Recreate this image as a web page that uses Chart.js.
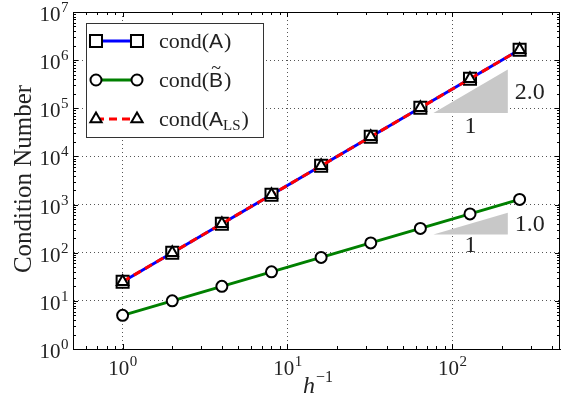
<!DOCTYPE html>
<html>
<head>
<meta charset="utf-8">
<script src="https://cdn.jsdelivr.net/npm/chart.js@4.4.1/dist/chart.umd.min.js"></script>
<style>html,body{margin:0;padding:0;background:#fff}</style>
</head>
<body>
<canvas id="c" width="561" height="409"></canvas>
<script>
// data
const hInv = [1, 2, 4, 8, 16, 32, 64, 128, 256];
const condA = [25, 100, 400, 1600, 6400, 25600, 102400, 409600, 1638400];
const condB = [5, 10, 20, 40, 80, 160, 320, 640, 1280];
const condALS = [25, 100, 400, 1600, 6400, 25600, 102400, 409600, 1638400];
const xTickVals = [1, 10, 100];
const yTickVals = [1, 10, 100, 1e3, 1e4, 1e5, 1e6, 1e7];
// slope triangles: x0, x1, y0, y1, slope text, run text
const triUpper = [76.8, 217, 8e4, 6.4e5, '2.0', '1'];
const triLower = [76.8, 217, 240, 680, '1.0', '1'];

const SERIF = '"Liberation Serif", "DejaVu Serif", serif';
const SANS = '"Liberation Sans", "DejaVu Sans", sans-serif';

const pts = ys => hInv.map((x, i) => ({ x: x, y: ys[i] }));

const styleA = { color: '#0000ff', point: 'rect', r: 8.5, dash: [] };
const styleB = { color: '#008000', point: 'circle', r: 5.5, dash: [] };
const styleALS = { color: '#ff0000', point: 'triangle', r: 6.5, dash: [8, 5] };

function ds(label, ys, st, order) {
  return {
    label: label, data: pts(ys), order: order,
    borderColor: st.color, borderWidth: 3, borderDash: st.dash,
    pointStyle: st.point, pointRadius: st.r, pointBorderColor: '#000',
    pointBackgroundColor: '#fff', pointBorderWidth: 2, tension: 0, fill: false
  };
}

// draws "10" with a raised exponent; align 'center' or 'right'
function pow10(ctx, exp, x, y, align) {
  ctx.font = '21px ' + SERIF;
  const wb = ctx.measureText('10').width;
  ctx.font = '15px ' + SERIF;
  const we = ctx.measureText(exp).width;
  let x0 = align === 'center' ? x - (wb + we) / 2 : x - wb - we;
  ctx.textAlign = 'left';
  ctx.textBaseline = 'alphabetic';
  ctx.font = '21px ' + SERIF;
  ctx.fillText('10', x0, y);
  ctx.font = '15px ' + SERIF;
  ctx.fillText(exp, x0 + wb + 0.5, y - 9);
}

function slopeTri(ctx, xs, ys, t, belowOff) {
  const xa = xs.getPixelForValue(t[0]), xb = xs.getPixelForValue(t[1]);
  const ya = ys.getPixelForValue(t[2]), yb = ys.getPixelForValue(t[3]);
  ctx.save();
  ctx.fillStyle = '#c8c8c8';
  ctx.beginPath();
  ctx.moveTo(xa, ya); ctx.lineTo(xb, ya); ctx.lineTo(xb, yb); ctx.closePath();
  ctx.fill();
  ctx.restore();
  return { xa, xb, ya, yb, belowOff };
}

const annot = {
  id: 'annot',
  beforeDatasetsDraw(chart) {
    const ctx = chart.ctx, xs = chart.scales.x, ys = chart.scales.y;
    chart.$tris = [
      [slopeTri(ctx, xs, ys, triUpper, 14), triUpper],
      [slopeTri(ctx, xs, ys, triLower, 11), triLower]
    ];
  },
  afterDraw(chart) {
    const ctx = chart.ctx, xs = chart.scales.x, ys = chart.scales.y;
    const a = chart.chartArea;
    ctx.save();
    // frame top / right
    ctx.strokeStyle = '#000'; ctx.lineWidth = 1;
    ctx.strokeRect(Math.round(a.left) + 0.5, Math.round(a.top) + 0.5,
      Math.round(a.right - a.left) - 1, Math.round(a.bottom - a.top));

    // inward ticks on all four sides
    ctx.beginPath();
    for (let n = -1; n <= 7; n++) {
      for (let k = 1; k <= 9; k++) {
        const v = k * Math.pow(10, n);
        const len = k === 1 ? 5 : 3;
        if (v >= xs.min && v <= xs.max) {
          const px = Math.round(xs.getPixelForValue(v)) + 0.5;
          ctx.moveTo(px, a.bottom); ctx.lineTo(px, a.bottom - len);
          ctx.moveTo(px, a.top); ctx.lineTo(px, a.top + len);
        }
        if (v >= ys.min && v <= ys.max) {
          const py = Math.round(ys.getPixelForValue(v)) + 0.5;
          ctx.moveTo(a.left, py); ctx.lineTo(a.left + len, py);
          ctx.moveTo(a.right, py); ctx.lineTo(a.right - len, py);
        }
      }
    }
    ctx.stroke();

    // tick labels
    ctx.fillStyle = '#222';
    xTickVals.forEach(v => {
      pow10(ctx, String(Math.round(Math.log10(v))), xs.getPixelForValue(v), 375, 'center');
    });
    yTickVals.forEach(v => {
      pow10(ctx, String(Math.round(Math.log10(v))), 68, ys.getPixelForValue(v) + 9, 'right');
    });

    // axis titles
    ctx.textAlign = 'left';
    ctx.font = 'italic 24px ' + SERIF;
    ctx.fillText('h', 303, 393);
    ctx.font = '16px ' + SERIF;
    ctx.fillText('\u22121', 316, 382);
    ctx.save();
    ctx.translate(31, 179);
    ctx.rotate(-Math.PI / 2);
    ctx.textAlign = 'center';
    ctx.font = '25px ' + SERIF;
    ctx.fillText('Condition Number', 0, 0);
    ctx.restore();

    // slope labels
    ctx.font = '24px ' + SERIF;
    (chart.$tris || []).forEach(([p, t]) => {
      ctx.textAlign = 'left'; ctx.textBaseline = 'middle';
      ctx.fillText(t[4], p.xb + 7, (p.ya + p.yb) / 2 + 1);
      ctx.textAlign = 'center';
      ctx.fillText(t[5], (p.xa + p.xb) / 2, p.ya + p.belowOff);
    });
    ctx.textBaseline = 'alphabetic';

    // legend
    ctx.fillStyle = '#fff';
    ctx.fillRect(86, 23, 177, 114);
    ctx.strokeStyle = '#333'; ctx.lineWidth = 1;
    ctx.strokeRect(86.5, 23.5, 177, 114);
    const rows = [[styleA, 41, 'A'], [styleB, 80, 'B'], [styleALS, 119, 'ALS']];
    rows.forEach(([st, y, key]) => {
      ctx.save();
      ctx.strokeStyle = st.color; ctx.lineWidth = 3; ctx.setLineDash(st.dash);
      ctx.beginPath(); ctx.moveTo(96, y); ctx.lineTo(137, y); ctx.stroke();
      ctx.setLineDash([]);
      ctx.fillStyle = '#fff'; ctx.strokeStyle = '#000'; ctx.lineWidth = 2;
      [96, 137].forEach(px => Chart.helpers.drawPoint(ctx,
        { pointStyle: st.point, radius: st.r, rotation: 0, borderWidth: 2 }, px, y));
      ctx.restore();
      ctx.fillStyle = '#222';
      ctx.textAlign = 'left';
      let x = 159;
      const base = y + 7;
      ctx.font = '22px ' + SERIF;
      ctx.fillText('cond(', x, base); x += ctx.measureText('cond(').width;
      ctx.font = '21px ' + SANS;
      if (key === 'A') {
        ctx.fillText('A', x, base); x += ctx.measureText('A').width + 1;
      } else if (key === 'B') {
        const w = ctx.measureText('B').width;
        ctx.fillText('B', x, base);
        ctx.textAlign = 'center';
        ctx.font = '18px ' + SERIF;
        ctx.fillText('~', x + w / 2, base - 13);
        ctx.textAlign = 'left';
        x += w + 1;
      } else {
        ctx.fillText('A', x, base); x += ctx.measureText('A').width;
        ctx.font = '15px ' + SERIF;
        ctx.fillText('LS', x, base + 4); x += ctx.measureText('LS').width + 1;
      }
      ctx.font = '22px ' + SERIF;
      ctx.fillText(')', x, base);
    });
    ctx.restore();
  }
};

new Chart(document.getElementById('c'), {
  type: 'line',
  data: {
    datasets: [
      ds('cond(A)', condA, styleA, 3),
      ds('cond(B)', condB, styleB, 2),
      ds('cond(A_LS)', condALS, styleALS, 1)
    ]
  },
  options: {
    responsive: false,
    animation: false,
    events: [],
    layout: { autoPadding: false, padding: { top: 12, right: 1, left: 0, bottom: 0 } },
    plugins: { legend: { display: false }, tooltip: { enabled: false } },
    scales: {
      x: {
        type: 'logarithmic', min: 0.5, max: 450,
        afterBuildTicks: s => { s.ticks = xTickVals.map(v => ({ value: v })); },
        afterFit: s => { s.height = 60; },
        ticks: { display: false },
        grid: { color: '#555', lineWidth: 1, drawTicks: false },
        border: { display: true, color: '#000', width: 1, dash: [1, 3] }
      },
      y: {
        type: 'logarithmic', min: 1, max: 1e7,
        afterBuildTicks: s => { s.ticks = yTickVals.map(v => ({ value: v })); },
        afterFit: s => { s.width = 73; },
        ticks: { display: false },
        grid: { color: '#555', lineWidth: 1, drawTicks: false },
        border: { display: true, color: '#000', width: 1, dash: [1, 3] }
      }
    }
  },
  plugins: [annot]
});
</script>
</body>
</html>
